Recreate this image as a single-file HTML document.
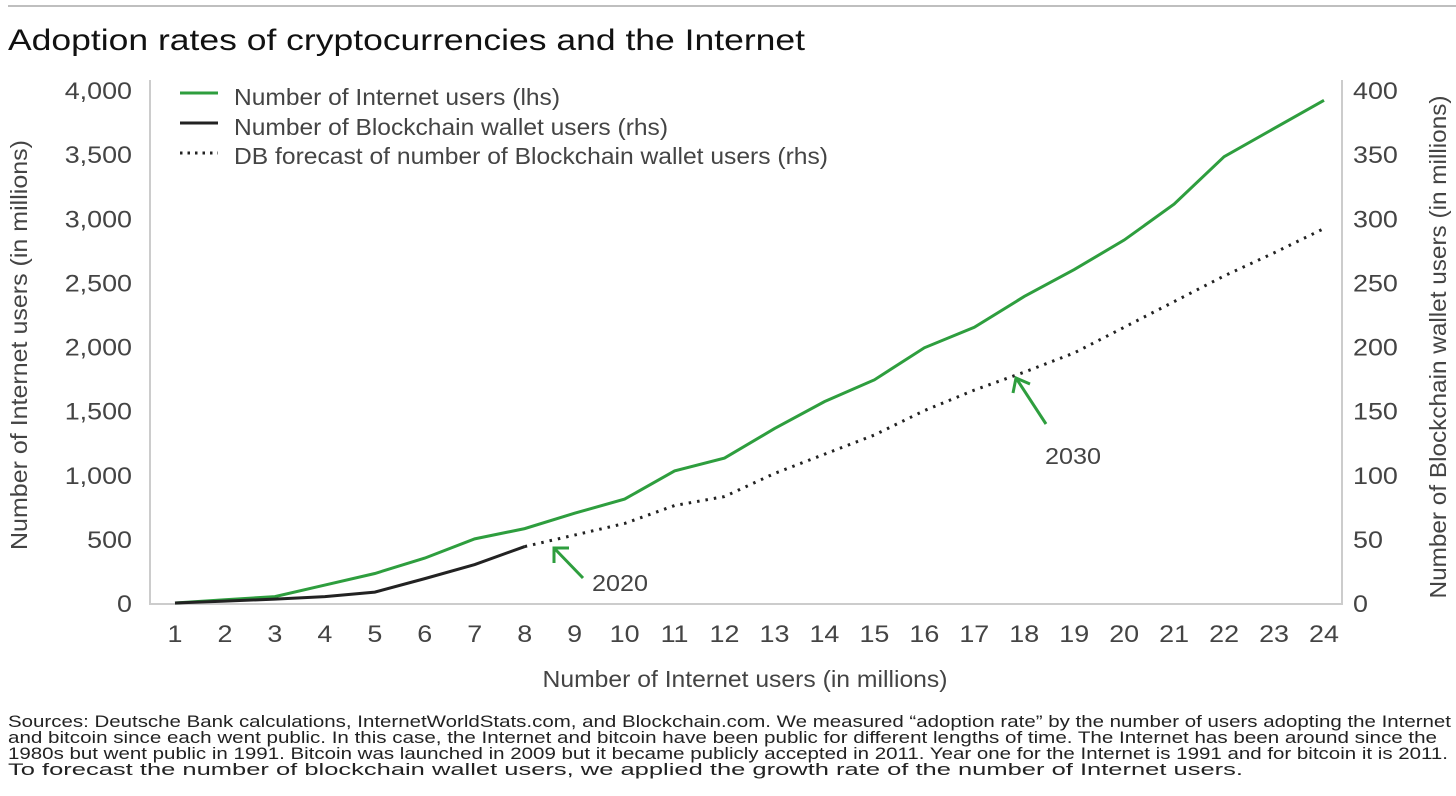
<!DOCTYPE html>
<html><head><meta charset="utf-8"><style>
body{margin:0;background:#fff;font-family:"Liberation Sans",sans-serif}
svg{display:block}
</style></head><body>
<svg id="c" width="1456" height="796" xmlns="http://www.w3.org/2000/svg" font-family="Liberation Sans, sans-serif">
<line x1="8" y1="6" x2="1456" y2="6" stroke="#aaa" stroke-width="1.5"/>
<text x="8" y="50" font-size="30" fill="#111" textLength="797" lengthAdjust="spacingAndGlyphs">Adoption rates of cryptocurrencies and the Internet</text>
<g id="axes"></g>
<g id="marks"></g>
<g>
<line x1="180" y1="93" x2="218" y2="93" stroke="#2e9e3e" stroke-width="3"/>
<text x="234" y="105" font-size="23" fill="#444" textLength="326" lengthAdjust="spacingAndGlyphs">Number of Internet users (lhs)</text>
<line x1="180" y1="123" x2="218" y2="123" stroke="#222" stroke-width="3"/>
<text x="234" y="135" font-size="23" fill="#444" textLength="434" lengthAdjust="spacingAndGlyphs">Number of Blockchain wallet users (rhs)</text>
<line x1="180" y1="153" x2="218" y2="153" stroke="#222" stroke-width="3" stroke-dasharray="2.5,5"/>
<text x="234" y="164" font-size="23" fill="#444" textLength="594" lengthAdjust="spacingAndGlyphs">DB forecast of number of Blockchain wallet users (rhs)</text>
</g>
<g stroke="#2e9e3e" stroke-width="3" fill="none">
<line x1="583" y1="578" x2="554" y2="548"/><polyline points="554,563 554,548 569,548"/></g>
<text x="592" y="591" font-size="23" fill="#444" textLength="56" lengthAdjust="spacingAndGlyphs">2020</text>
<g stroke="#2e9e3e" stroke-width="3" fill="none">
<line x1="1046" y1="424" x2="1016" y2="378"/><polyline points="1013,393 1016,378 1030,384"/></g>
<text x="1045" y="464" font-size="23" fill="#444" textLength="56" lengthAdjust="spacingAndGlyphs">2030</text>
<text transform="translate(27,345) rotate(-90)" text-anchor="middle" font-size="23" fill="#444" textLength="410" lengthAdjust="spacingAndGlyphs">Number of Internet users (in millions)</text>
<text transform="translate(1446,347) rotate(-90)" text-anchor="middle" font-size="23" fill="#444" textLength="503" lengthAdjust="spacingAndGlyphs">Number of Blockchain wallet users (in millions)</text>
<text x="745" y="687" text-anchor="middle" font-size="23" fill="#444" textLength="405" lengthAdjust="spacingAndGlyphs">Number of Internet users (in millions)</text>
<g font-size="17" fill="#222" lengthAdjust="spacingAndGlyphs">
<text x="8" y="727" textLength="1443" lengthAdjust="spacingAndGlyphs">Sources: Deutsche Bank calculations, InternetWorldStats.com, and Blockchain.com. We measured “adoption rate” by the number of users adopting the Internet</text>
<text x="8" y="743" textLength="1429" lengthAdjust="spacingAndGlyphs">and bitcoin since each went public. In this case, the Internet and bitcoin have been public for different lengths of time. The Internet has been around since the</text>
<text x="8" y="759" textLength="1440" lengthAdjust="spacingAndGlyphs">1980s but went public in 1991. Bitcoin was launched in 2009 but it became publicly accepted in 2011. Year one for the Internet is 1991 and for bitcoin it is 2011.</text>
<text x="8" y="775" textLength="1235" lengthAdjust="spacingAndGlyphs">To forecast the number of blockchain wallet users, we applied the growth rate of the number of Internet users.</text>
</g>
</svg>
<script>
const categories=[1,2,3,4,5,6,7,8,9,10,11,12,13,14,15,16,17,18,19,20,21,22,23,24];
const internetUsers=[0,25,50,140,230,350,500,580,700,810,1030,1130,1360,1570,1740,1990,2150,2390,2600,2830,3110,3480,3700,3920];
const walletYears=[1,2,3,4,5,6,7,8];
const walletUsers=[0,1.5,3,5,8.5,19,30,44];
const forecastYears=[8,9,10,11,12,13,14,15,16,17,18,19,20,21,22,23,24];
const forecastUsers=[44,53,62,76,83,101,116,131,150,166,180,195,215,235,255,273,292];
const leftTicks=[0,500,1000,1500,2000,2500,3000,3500,4000];
const rightTicks=[0,50,100,150,200,250,300,350,400];
const NS="http://www.w3.org/2000/svg";
const X0=175,X1=1324,Y0=603,Y1=90;
const xs=v=>X0+(v-1)*(X1-X0)/23;
const yl=v=>Y0-v*(Y0-Y1)/4000;
const yr=v=>Y0-v*(Y0-Y1)/400;
function mk(t,a,p){const e=document.createElementNS(NS,t);for(const k in a)e.setAttribute(k,a[k]);p.appendChild(e);return e;}
function widen(t){const w=t.getComputedTextLength();t.setAttribute('textLength',w*1.12);t.setAttribute('lengthAdjust','spacingAndGlyphs');}
const axes=document.getElementById('axes'),marks=document.getElementById('marks');
let e=mk('polyline',{points:`150,80 150,604 1342,604 1342,80`,fill:'none',stroke:'#ccc','stroke-width':2},axes);


leftTicks.forEach(v=>{const t=mk('text',{x:132,y:yl(v)+9,'text-anchor':'end','font-size':24,fill:'#444'},axes);t.textContent=v.toLocaleString('en-US');widen(t);

});
rightTicks.forEach(v=>{const t=mk('text',{x:1353,y:yr(v)+9,'font-size':24,fill:'#444'},axes);t.textContent=v;widen(t);

});
categories.forEach(c=>{const t=mk('text',{x:xs(c),y:642,'text-anchor':'middle','font-size':24,fill:'#444'},axes);t.textContent=c;widen(t);

});
e=mk('polyline',{points:categories.map((c,i)=>xs(c)+','+yl(internetUsers[i])).join(' '),fill:'none',stroke:'#2e9e3e','stroke-width':3},marks);


e=mk('polyline',{points:walletYears.map((c,i)=>xs(c)+','+yr(walletUsers[i])).join(' '),fill:'none',stroke:'#222','stroke-width':3},marks);


e=mk('polyline',{points:forecastYears.map((c,i)=>xs(c)+','+yr(forecastUsers[i])).join(' '),fill:'none',stroke:'#222','stroke-width':3,'stroke-dasharray':'2.5,6'},marks);


</script>
</body></html>
